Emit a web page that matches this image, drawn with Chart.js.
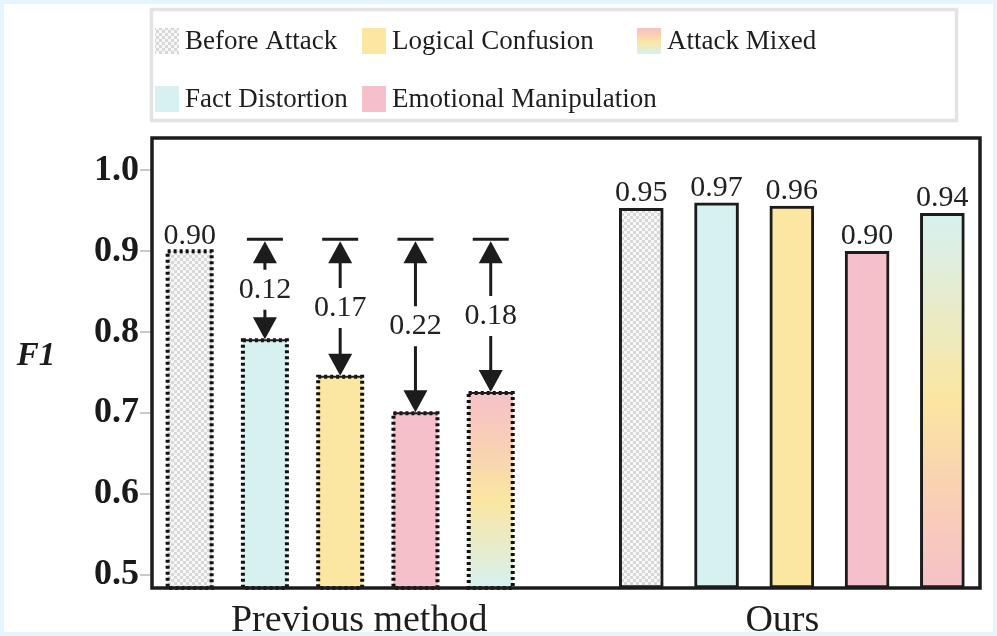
<!DOCTYPE html>
<html>
<head>
<meta charset="utf-8">
<title>F1 before / after attack</title>
<script src="https://cdn.jsdelivr.net/npm/chart.js@4.4.1/dist/chart.umd.min.js"></script>
<style>
    html, body { margin: 0; padding: 0; background: #e5f5fd; }
    #wrap { width: 997px; height: 636px; }
</style>
</head>
<body>
<div id="wrap"><canvas id="f1Chart" width="997" height="636"></canvas></div>
<script>
var categories = ['Before Attack', 'Fact Distortion', 'Logical Confusion', 'Emotional Manipulation', 'Attack Mixed'];
var groups = ['Previous method', 'Ours'];
var previousF1 = [0.90, 0.79, 0.745, 0.70, 0.725];
var oursF1 = [0.953, 0.96, 0.956, 0.90, 0.947];
var previousText = ['0.90', null, null, null, null];
var oursText = ['0.95', '0.97', '0.96', '0.90', '0.94'];
var dropText = [null, '0.12', '0.17', '0.22', '0.18'];
var arrowCapF1 = 0.915;
var yTicks = [0.5, 0.6, 0.7, 0.8, 0.9, 1.0];
var yMin = 0.484, yMax = 1.04;

var SERIF = "'Liberation Serif', 'Times New Roman', serif";
var INK = '#1c1c1c';
var flatColors = [null, '#d7f1f1', '#fbe7a1', '#f5c0c9', null];

var canvas = document.getElementById('f1Chart');
var ctx = canvas.getContext('2d');

function checkerPattern() {
    var c = document.createElement('canvas');
    c.width = 6; c.height = 6;
    var g = c.getContext('2d');
    g.fillStyle = '#f7f7f7';
    g.fillRect(0, 0, 6, 6);
    g.fillStyle = '#d8d8d8';
    g.fillRect(0, 0, 3, 3);
    g.fillRect(3, 3, 3, 3);
    return ctx.createPattern(c, 'repeat');
}
var checker = checkerPattern();

// pink -> yellow -> cyan, or the other way round for the "Ours" bar
function mixedGradient(top, bottom, reversed) {
    var gr = ctx.createLinearGradient(0, top, 0, bottom);
    if (!reversed) {
        gr.addColorStop(0, '#f5c1c8');
        gr.addColorStop(0.3, '#f9d2b3');
        gr.addColorStop(0.55, '#fbe6a1');
        gr.addColorStop(1, '#d6f1f1');
    } else {
        gr.addColorStop(0, '#d6f1f1');
        gr.addColorStop(0.5, '#fbe6a1');
        gr.addColorStop(0.75, '#f9d0b4');
        gr.addColorStop(1, '#f5c1c8');
    }
    return gr;
}

function fillFor(cat, top, bottom, reversed) {
    if (cat === 0) return checker;
    if (cat === 4) return mixedGradient(top, bottom, reversed);
    return flatColors[cat];
}

var labels = categories.concat([''], categories);
var values = previousF1.concat([null], oursF1);

function catOf(i) { return i < 5 ? i : i - 6; }
function isOurs(i) { return i > 5; }

var decor = {
    id: 'decor',
    beforeDraw: function (chart) {
        var c = chart.ctx;
        c.save();
        c.fillStyle = '#e5f5fd';
        c.fillRect(0, 0, chart.width, chart.height);
        c.fillStyle = '#ffffff';
        c.fillRect(4, 4, 989, 628);
        c.restore();
    },
    afterDatasetsDraw: function (chart) {
        var c = chart.ctx;
        var area = chart.chartArea;
        var y = chart.scales.y;
        var bars = chart.getDatasetMeta(0).data;
        c.save();

        bars.forEach(function (el, i) {
            if (values[i] === null) return;
            var cat = catOf(i);
            var w = el.width;
            if (!isOurs(i)) {
                c.strokeStyle = '#111';
                c.lineWidth = 4;
                c.setLineDash([3, 3]);
                c.strokeRect(el.x - w / 2, el.y, w, el.base - el.y);
                c.setLineDash([]);
            }
            var txt = isOurs(i) ? oursText[cat] : previousText[cat];
            if (txt) {
                c.fillStyle = '#222';
                c.font = '30px ' + SERIF;
                c.textAlign = 'center';
                c.textBaseline = 'alphabetic';
                c.fillText(txt, el.x, el.y - 7);
            }
            if (!isOurs(i) && dropText[cat]) {
                var top = y.getPixelForValue(arrowCapF1);
                var bot = el.y;
                var mid = (top + bot) / 2;
                c.strokeStyle = INK;
                c.fillStyle = INK;
                c.lineWidth = 3;
                c.beginPath();
                c.moveTo(el.x - 18, top); c.lineTo(el.x + 18, top);
                c.moveTo(el.x, top + 22); c.lineTo(el.x, mid - 20);
                c.moveTo(el.x, mid + 20); c.lineTo(el.x, bot - 21);
                c.stroke();
                c.lineWidth = 2;
                c.beginPath();
                c.moveTo(el.x - w / 2, bot); c.lineTo(el.x + w / 2, bot);
                c.stroke();
                c.beginPath();
                c.moveTo(el.x, top + 2); c.lineTo(el.x - 12, top + 24); c.lineTo(el.x + 12, top + 24);
                c.closePath(); c.fill();
                c.beginPath();
                c.moveTo(el.x, bot - 1); c.lineTo(el.x - 12, bot - 23); c.lineTo(el.x + 12, bot - 23);
                c.closePath(); c.fill();
                c.font = '30px ' + SERIF;
                c.textAlign = 'center';
                c.textBaseline = 'middle';
                c.fillStyle = '#222';
                c.fillText(dropText[cat], el.x, mid);
            }
        });

        // plot frame
        c.strokeStyle = INK;
        c.lineWidth = 3.5;
        c.strokeRect(area.left, area.top, area.right - area.left, area.bottom - area.top);

        // axis title
        c.fillStyle = INK;
        c.font = 'bold italic 33px ' + SERIF;
        c.textAlign = 'center';
        c.textBaseline = 'alphabetic';
        c.fillText('F1', 36, 365);

        // legend, three columns, filled column by column
        c.fillStyle = '#ffffff';
        c.fillRect(150, 8, 808, 114);
        c.strokeStyle = '#e3e3e3';
        c.lineWidth = 3.5;
        c.strokeRect(151.5, 9.5, 805, 111);
        var colX = [155, 362, 637];
        var rowY = [28, 86];
        categories.forEach(function (name, k) {
            var col = Math.floor(k / 2), row = k % 2;
            var sx = colX[col], sy = rowY[row];
            c.fillStyle = fillFor(k, sy, sy + 26, false);
            c.fillRect(sx, sy, 24, 26);
            c.fillStyle = '#1e1e1e';
            c.font = '27px ' + SERIF;
            c.textAlign = 'left';
            c.textBaseline = 'middle';
            c.fillText(name, sx + 30, sy + 14);
        });
        c.restore();
    }
};

new Chart(canvas, {
    type: 'bar',
    data: {
        labels: labels,
        datasets: [{
            label: 'F1',
            data: values,
            base: yMin,
            barThickness: 44,
            borderSkipped: false,
            borderColor: INK,
            borderWidth: values.map(function (v, i) { return isOurs(i) ? 3 : 0; }),
            backgroundColor: function (context) {
                var i = context.dataIndex;
                var chart = context.chart;
                if (!chart.chartArea || values[i] === null) return '#ddd';
                var ys = chart.scales.y;
                return fillFor(catOf(i), ys.getPixelForValue(values[i]), ys.getPixelForValue(yMin), isOurs(i));
            }
        }]
    },
    options: {
        responsive: false,
        animation: false,
        devicePixelRatio: 1,
        layout: { padding: { top: 138, right: 17, left: 0, bottom: 0 } },
        plugins: {
            legend: { display: false },
            tooltip: { enabled: false }
        },
        scales: {
            x: {
                offset: true,
                grid: { display: false },
                border: { display: false },
                ticks: {
                    autoSkip: false,
                    maxRotation: 0,
                    padding: 2,
                    color: '#1e1e1e',
                    font: { family: SERIF, size: 38 },
                    callback: function (v, idx) {
                        // leading/trailing spaces nudge the centred group names
                        if (idx === 2) return '    ' + groups[0];
                        if (idx === 8) return groups[1] + '  ';
                        return '';
                    }
                },
                afterFit: function (scale) { scale.height = 48; }
            },
            y: {
                min: yMin,
                max: yMax,
                border: { display: false },
                grid: { drawOnChartArea: false, drawTicks: true, tickLength: 12, color: '#c9c9c9', lineWidth: 2 },
                afterBuildTicks: function (scale) {
                    scale.ticks = yTicks.map(function (v) { return { value: v }; });
                },
                ticks: {
                    padding: 1,
                    color: '#1a1a1a',
                    font: { family: SERIF, size: 36, weight: 'bold' },
                    callback: function (v) { return Number(v).toFixed(1); }
                },
                afterFit: function (scale) { scale.width = 152; }
            }
        }
    },
    plugins: [decor]
});
</script>
</body>
</html>
